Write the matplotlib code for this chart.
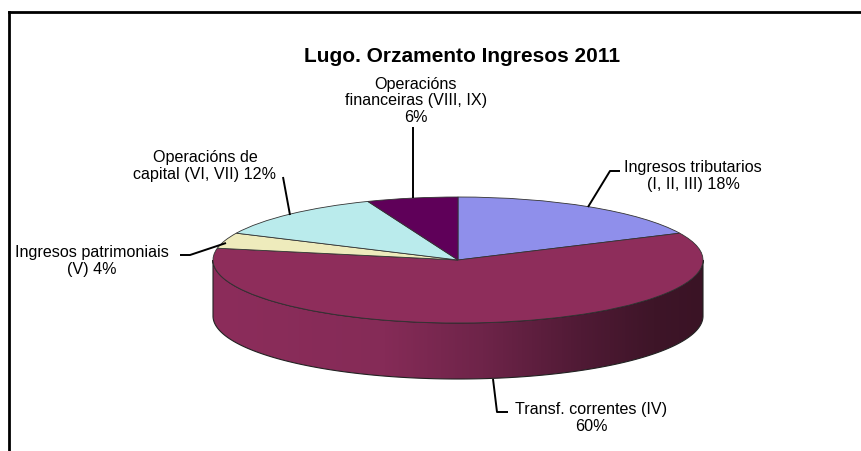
import numpy as np
import matplotlib
matplotlib.use("Agg")
import matplotlib.pyplot as plt
from matplotlib.colors import LinearSegmentedColormap
from matplotlib.patches import Polygon
from matplotlib.lines import Line2D

plt.rcParams['font.family'] = ['Liberation Sans', 'DejaVu Sans']

# ---- data ----
title = "Lugo. Orzamento Ingresos 2011"
categories = ["Ingresos tributarios (I, II, III)",
              "Transf. correntes (IV)",
              "Ingresos patrimoniais (V)",
              "Operacións de capital (VI, VII)",
              "Operacións financeiras (VIII, IX)"]
values = [18, 60, 4, 12, 6]
colors = ["#8F8FEB", "#8E2D5B", "#EEEBBC", "#BAEBEC", "#5F0059"]

W, H = 861, 452
fig = plt.figure(figsize=(W / 100, H / 100), dpi=100)

# pie geometry in pixels
CX, CY, RX, RY, DEPTH = 458, 261, 245, 63, 56

ax = fig.add_axes([0, 0, 1, 1])


def px(x, y):
    """pixel (from top-left) -> data coords of pie axes"""
    return (x - CX) / RX, (CY - y) / RY


wedges, _ = ax.pie(values, startangle=90, counterclock=False, colors=colors,
                   radius=1, center=(0, 0),
                   wedgeprops=dict(edgecolor="#333333", linewidth=0.6))
for w in wedges:
    w.set_zorder(3)
ax.set_aspect('auto')
ax.axis('off')

# ---- side wall (front half) ----
d = DEPTH / RY
t = np.linspace(np.pi, 2 * np.pi, 300)
top = np.column_stack([np.cos(t), np.sin(t)])
bot = np.column_stack([np.cos(t[::-1]), np.sin(t[::-1]) - d])
wall = Polygon(np.vstack([top, bot]), closed=True, facecolor='none',
               edgecolor="#222222", linewidth=0.8, zorder=2)
ax.add_patch(wall)
cmap = LinearSegmentedColormap.from_list(
    "side", [(0.0, "#8C2D5B"), (0.35, "#852B57"), (0.55, "#6E2449"),
             (0.75, "#501A35"), (0.9, "#3E1528"), (1.0, "#3A1325")])
grad = np.linspace(0, 1, 512)[None, :]
im = ax.imshow(grad, cmap=cmap, extent=(-1, 1, -1 - d, 0), aspect='auto',
               zorder=1, interpolation='bilinear')
im.set_clip_path(wall)
ax.set_xlim(-CX / RX, (W - CX) / RX)
ax.set_ylim(-(H - CY) / RY, CY / RY)

# ---- labels ----
pct = [f"{v}%" for v in values]
label_txt = [
    f"Ingresos tributarios\n(I, II, III) {pct[0]}",
    f"Transf. correntes (IV)\n{pct[1]}",
    f"Ingresos patrimoniais\n(V) {pct[2]}",
    f"Operacións de\ncapital (VI, VII) {pct[3]}",
    f"Operacións\nfinanceiras (VIII, IX)\n{pct[4]}",
]
label_pos = [(693, 176), (591, 418), (92, 261), (205, 166), (416, 101)]
leaders = [
    [(620, 172), (610, 172), (588, 208)],
    [(493, 380), (497, 413), (508, 413)],
    [(180, 256), (190, 256), (226, 244)],
    [(283, 178), (290, 216)],
    [(413, 128), (413, 199)],
]
for txt, (lx, ly), ld in zip(label_txt, label_pos, leaders):
    x, y = px(lx, ly)
    ax.text(x, y, txt, ha='center', va='center', fontsize=11.6,
            linespacing=1.12, color='black', zorder=5)
    pts = np.array([px(a, b) for a, b in ld])
    ax.plot(pts[:, 0], pts[:, 1], color='black', linewidth=1.4, zorder=4,
            solid_capstyle='butt')

# ---- title ----
fig.text(462 / W, 1 - 56 / H, title, ha='center', va='center',
         fontsize=15, fontweight='bold')

# ---- frame ----
fig.add_artist(Line2D([9 / W, 1.0], [1 - 13 / H, 1 - 13 / H],
                      transform=fig.transFigure, color='black', linewidth=2))
fig.add_artist(Line2D([9 / W, 9 / W], [0.0, 1 - 13 / H],
                      transform=fig.transFigure, color='black', linewidth=2))

fig.savefig("out.png", dpi=100)
